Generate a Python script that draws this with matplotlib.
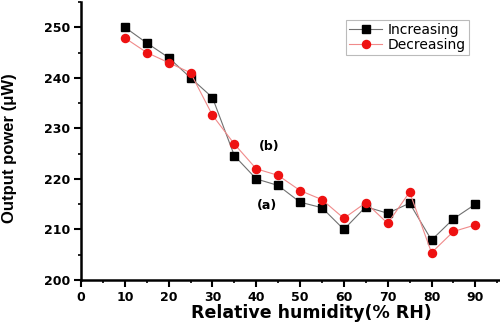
import matplotlib
matplotlib.use("Agg")
from matplotlib import pyplot as plt
from matplotlib.ticker import MultipleLocator

plt.rcParams['font.family'] = ['DejaVu Sans']

# relative humidity (% RH)
rh = [10, 15, 20, 25, 30, 35, 40, 45, 50, 55, 60, 65, 70, 75, 80, 85, 90]
# output power (uW)
increasing = [250, 246.9, 244, 240, 236.1, 224.6, 220, 218.7, 215.4, 214.3, 210,
              214.5, 213.2, 215.2, 207.9, 212.1, 215]
decreasing = [247.9, 245, 243, 241, 232.6, 226.9, 222, 220.7, 217.7, 215.9, 212.2,
              215.3, 211.2, 217.4, 205.4, 209.6, 210.9]

fig = plt.figure(figsize=(5, 3.31), dpi=100)
ax = fig.add_axes([0.162, 0.154, 0.836, 0.84])

ax.plot(rh, increasing, color='#707070', linewidth=0.8, marker='s', markersize=5.2,
        markerfacecolor='black', markeredgecolor='black', label='Increasing')
ax.plot(rh, decreasing, color='#f08a8a', linewidth=0.8, marker='o', markersize=5.8,
        markerfacecolor='#ee1111', markeredgecolor='#ee1111', label='Decreasing')

ax.text(42.9, 226.4, "(b)", ha='center', va='center', fontsize=9, fontweight='bold')
ax.text(42.5, 214.8, "(a)", ha='center', va='center', fontsize=9, fontweight='bold')

ax.set_xlim(0, 95.4)
ax.set_ylim(200, 255)
ax.xaxis.set_major_locator(MultipleLocator(10))
ax.xaxis.set_minor_locator(MultipleLocator(5))
ax.yaxis.set_major_locator(MultipleLocator(10))
ax.yaxis.set_minor_locator(MultipleLocator(5))
ax.tick_params(which='major', direction='out', length=5, width=1.5, labelsize=9, pad=3)
ax.tick_params(which='minor', direction='out', length=2.5, width=1.2)
for lab in ax.get_xticklabels() + ax.get_yticklabels():
    lab.set_fontweight('bold')

for s in ['top', 'right']:
    ax.spines[s].set_visible(False)
for s in ['left', 'bottom']:
    ax.spines[s].set_linewidth(1.8)

ax.set_xlabel("Relative humidity(% RH)", fontsize=12.5, fontweight='bold', labelpad=0)
ax.xaxis.label.set_x(0.55)
ax.set_ylabel("Output power (\u03bcW)", fontsize=12, fontweight='bold', labelpad=19,
              family=['Liberation Sans', 'DejaVu Sans'])
ax.yaxis.label.set_y(0.473)

leg = ax.legend(loc='upper right', bbox_to_anchor=(0.928, 0.935), fontsize=10,
                frameon=True, fancybox=False, edgecolor='#aaaaaa', borderpad=0.2,
                handlelength=2.4, handletextpad=0.4, labelspacing=0.1, borderaxespad=0)
leg.get_frame().set_linewidth(0.8)

plt.savefig("out.png", dpi=100)
